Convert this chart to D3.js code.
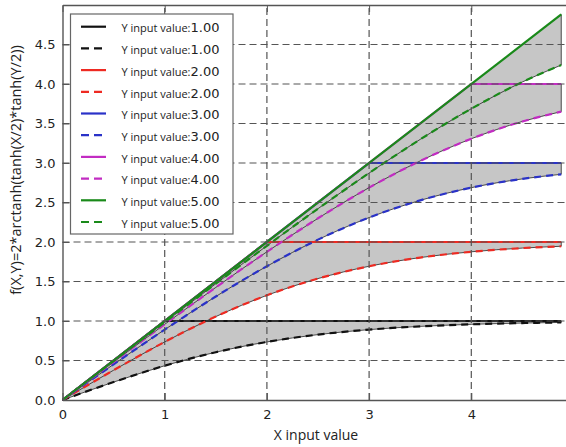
<!DOCTYPE html>
<html>
<head>
<meta charset="utf-8">
<script src="https://cdn.jsdelivr.net/npm/d3@7"></script>
<style>
  body { margin: 0; background: #fff; }
  svg { display: block; }
</style>
</head>
<body>
<div id="chart"></div>
<script>
// x positions where the curves were read
const xs = [0, 0.5, 1, 1.5, 2, 2.5, 3, 3.5, 4, 4.5, 4.88];
const yInputs = [1, 2, 3, 4, 5];
const colors = ["#111111", "#ee2a22", "#2a32c8", "#c22cc2", "#1a8a1a"];

// dashed curves f(X,Y)
const fY1 = [0, 0.227, 0.434, 0.605, 0.735, 0.828, 0.891, 0.932, 0.958, 0.974, 0.982];
const fY2 = [0, 0.377, 0.735, 1.056, 1.325, 1.537, 1.693, 1.803, 1.876, 1.923, 1.946];
const fY3 = [0, 0.451, 0.891, 1.310, 1.693, 2.030, 2.309, 2.527, 2.688, 2.799, 2.857];
const fY4 = [0, 0.481, 0.958, 1.425, 1.876, 2.300, 2.688, 3.026, 3.307, 3.526, 3.650];
const fY5 = [0, 0.493, 0.984, 1.472, 1.952, 2.422, 2.873, 3.299, 3.687, 4.026, 4.240];
const lower = [fY1, fY2, fY3, fY4, fY5];

// solid lines (the bound): points where they bend
const upperX = [[0, 1, 4.88], [0, 2, 4.88], [0, 3, 4.88], [0, 4, 4.88], [0, 4.88]];
const upperY = [[0, 1, 1], [0, 2, 2], [0, 3, 3], [0, 4, 4], [0, 4.88]];

const xTicks = [0, 1, 2, 3, 4];
const yTicks = [0, 0.5, 1, 1.5, 2, 2.5, 3, 3.5, 4, 4.5];

const width = 566, height = 447;
const x = d3.scaleLinear().domain([0, 5]).range([62.5, 573.5]);
const y = d3.scaleLinear().domain([0, 5]).range([400, 5]);

const svg = d3.select("#chart").append("svg")
    .attr("width", width)
    .attr("height", height);

const lowerLine = d3.line()
    .x((d, i) => x(xs[i]))
    .y(d => y(d))
    .curve(d3.curveMonotoneX);

// shaded area between the solid and dashed line of each Y
svg.append("g")
    .selectAll("path")
    .data(yInputs)
    .enter().append("path")
    .attr("d", (d, k) => {
        const back = upperX[k].map((v, i) => [x(v), y(upperY[k][i])]).reverse();
        return lowerLine(lower[k]) + "L" + back.map(p => p.join(",")).join("L") + "Z";
    })
    .attr("fill", "#c6c6c6")
    .attr("stroke", "#222")
    .attr("stroke-width", 0.8);

const upperLine = d3.line().x(p => x(p[0])).y(p => y(p[1]));

svg.append("g")
    .selectAll("path")
    .data(yInputs)
    .enter().append("path")
    .attr("d", (d, k) => upperLine(upperX[k].map((v, i) => [v, upperY[k][i]])))
    .attr("fill", "none")
    .attr("stroke", (d, k) => colors[k])
    .attr("stroke-width", 2.2);

svg.append("g")
    .selectAll("path")
    .data(yInputs)
    .enter().append("path")
    .attr("d", (d, k) => lowerLine(lower[k]))
    .attr("fill", "none")
    .attr("stroke", (d, k) => colors[k])
    .attr("stroke-width", 2.2)
    .attr("stroke-dasharray", "7,5");

// grid
const grid = svg.append("g")
    .attr("stroke", "#555")
    .attr("stroke-width", 1.2)
    .attr("stroke-dasharray", "7,4");
grid.selectAll(".gx").data(xTicks.slice(1)).enter().append("line")
    .attr("x1", d => x(d)).attr("x2", d => x(d))
    .attr("y1", y(0)).attr("y2", y(5));
grid.selectAll(".gy").data(yTicks.slice(1)).enter().append("line")
    .attr("x1", x(0)).attr("x2", x(5))
    .attr("y1", d => y(d)).attr("y2", d => y(d));

// axes, ticks inside like the classic style
const font = "DejaVu Sans, sans-serif";
svg.append("g")
    .attr("transform", `translate(0,${y(0)})`)
    .call(d3.axisBottom(x).tickValues(xTicks).tickSizeInner(-7).tickSizeOuter(0).tickPadding(10).tickFormat(d3.format("d")))
    .call(g => g.selectAll("text").attr("font-size", 13).attr("font-family", font).attr("fill", "#222"));
svg.append("g")
    .attr("transform", `translate(${x(0)},0)`)
    .call(d3.axisLeft(y).tickValues(yTicks).tickSizeInner(-7).tickSizeOuter(0).tickPadding(7).tickFormat(d3.format(".1f")))
    .call(g => g.selectAll("text").attr("font-size", 13).attr("font-family", font).attr("fill", "#222"));
svg.append("g")
    .attr("transform", `translate(0,${y(5)})`)
    .call(d3.axisTop(x).tickValues(xTicks).tickSizeInner(-7).tickSizeOuter(0).tickFormat(""));
svg.selectAll(".domain").attr("stroke", "#555").attr("stroke-width", 1.4);
svg.selectAll(".tick line").attr("stroke", "#555");

svg.append("text")
    .attr("x", 316)
    .attr("y", 440)
    .attr("text-anchor", "middle")
    .attr("font-family", "Open Sans, sans-serif")
    .attr("font-size", 14)
    .attr("fill", "#222")
    .text("X input value");

svg.append("text")
    .attr("transform", "translate(21,170) rotate(-90)")
    .attr("text-anchor", "middle")
    .attr("font-family", "Open Sans, sans-serif")
    .attr("font-size", 14.5)
    .attr("fill", "#222")
    .text("f(X,Y)=2*arctanh(tanh(X/2)*tanh(Y/2))");

// legend
const legend = svg.append("g").attr("transform", "translate(70.5,14)");
legend.append("rect")
    .attr("width", 162.5).attr("height", 220)
    .attr("fill", "#fff").attr("stroke", "#666").attr("stroke-width", 1.2);
const rows = [];
yInputs.forEach((v, k) => {
    rows.push({ v, k, dash: null });
    rows.push({ v, k, dash: "8,5" });
});
const row = legend.selectAll(".row").data(rows).enter().append("g")
    .attr("transform", (d, i) => `translate(0,${12.7 + i * 21.7})`);
row.append("line")
    .attr("x1", 10.5).attr("x2", 35.5)
    .attr("stroke", d => colors[d.k])
    .attr("stroke-width", 2.2)
    .attr("stroke-dasharray", d => d.dash);
const label = row.append("text")
    .attr("x", 51)
    .attr("dy", "0.36em")
    .attr("fill", "#222");
label.append("tspan")
    .attr("font-family", "Open Sans, sans-serif")
    .attr("font-size", 11)
    .text("Y input value:");
label.append("tspan")
    .attr("font-family", font)
    .attr("font-size", 13)
    .text(d => d3.format(".2f")(d.v));
</script>
</body>
</html>
